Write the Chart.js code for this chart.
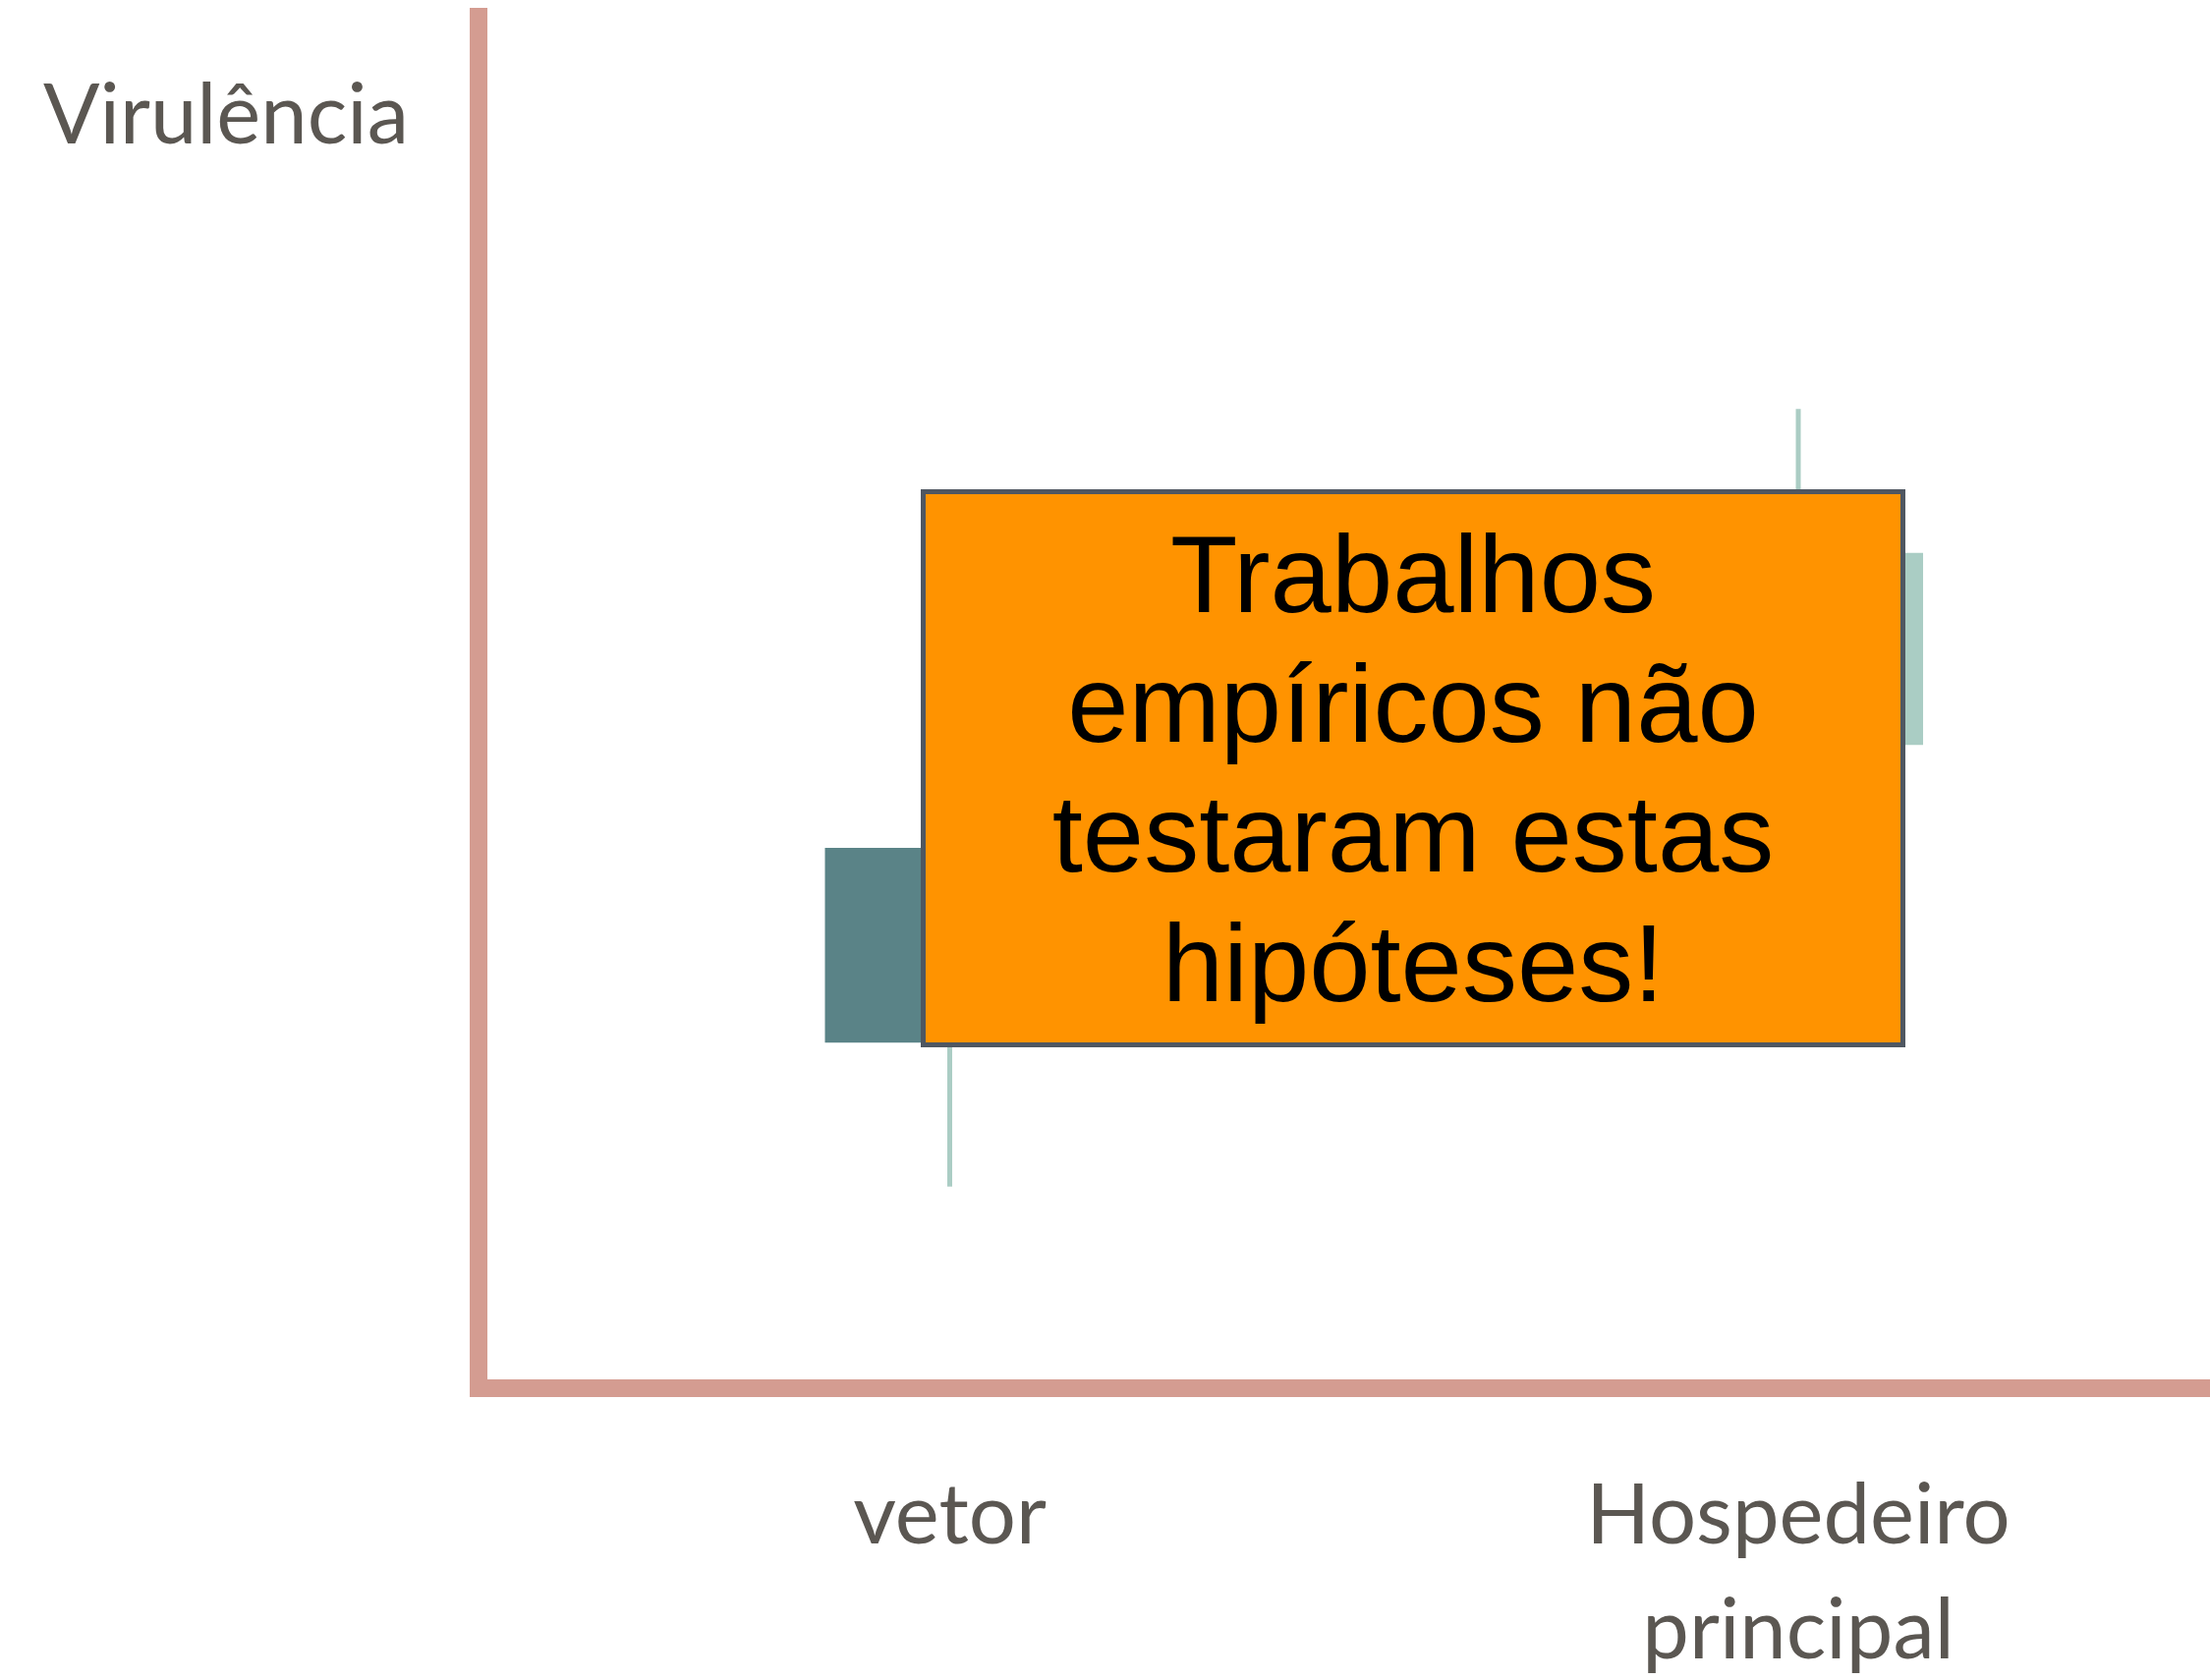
<!DOCTYPE html>
<html lang="pt">
<head>
<meta charset="utf-8">
<title>Virulência</title>
<script src="https://cdn.jsdelivr.net/npm/chart.js@4.4.1/dist/chart.umd.min.js"></script>
<style>
  html, body { margin: 0; padding: 0; background: #fff; overflow: hidden; }
  #wrap { position: relative; width: 2249px; height: 1710px; }
  #grafico { position: absolute; left: 0; top: 0; }
  #eixoY {
    position: absolute; left: 44px; top: 71px;
    font: 85px Lato, sans-serif; line-height: 85px; color: #5b5752;
    white-space: nowrap;
  }
  #nota {
    position: absolute; left: 937px; top: 498px; width: 1002px; height: 568px;
    box-sizing: border-box; border: 5px solid #4f5761; background: #ff9300;
    padding-top: 16px; text-align: center;
    font: 112px "Liberation Sans", Arial, sans-serif; line-height: 132px; color: #000;
  }
</style>
</head>
<body>
<div id="wrap">
  <canvas id="grafico" width="2249" height="1710"></canvas>
  <div id="eixoY">Virulência</div>
  <div id="nota">Trabalhos<br>empíricos não<br>testaram estas<br>hipóteses!</div>
</div>
<script>
  // categorias e valores (escala de virulência 0-10)
  const categorias  = [['vetor'], ['Hospedeiro', 'principal']];
  const posicoes    = [1, 2];
  const caixaBaixo  = [2.52, 4.69];
  const caixaAlto   = [3.94, 6.09];
  const bigodeBaixo = [1.47, 3.60];
  const bigodeAlto  = [5.00, 7.14];

  const corEixo   = '#d49c91';
  const corTexto  = '#5b5752';
  const corBigode = '#abcdc4';
  const coresCaixa = ['#5a8387', '#aacdc4'];
  const desvioRotulo = [0, 37]; // o rotulo da 2a categoria fica um pouco a direita

  // cada caixa e cada bigode e um segmento vertical grosso
  const caixas = posicoes.map((x, i) => ({
    label: 'caixa ' + i,
    data: [{ x: x, y: caixaBaixo[i] }, { x: x, y: caixaAlto[i] }],
    borderColor: coresCaixa[i],
    borderWidth: 254,
    order: 0
  }));
  const bigodes = posicoes.map((x, i) => ({
    label: 'bigode ' + i,
    data: [{ x: x, y: bigodeBaixo[i] }, { x: x, y: bigodeAlto[i] }],
    borderColor: corBigode,
    borderWidth: 5,
    order: 1
  }));

  const ctx = document.getElementById('grafico').getContext('2d');

  new Chart(ctx, {
    type: 'scatter',
    data: { datasets: bigodes.concat(caixas) },
    options: {
      responsive: false,
      animation: false,
      events: [],
      layout: { padding: { left: 487, top: 17, right: 0, bottom: 0 } },
      elements: {
        line: { borderCapStyle: 'butt', tension: 0 },
        point: { radius: 0 }
      },
      datasets: { scatter: { showLine: true, clip: false } },
      plugins: {
        legend: { display: false },
        tooltip: { enabled: false }
      },
      scales: {
        x: {
          type: 'linear',
          offset: false,
          bounds: 'data',
          min: 0.4447,
          max: 2.4852,
          afterBuildTicks: (scale) => { scale.ticks = posicoes.map(v => ({ value: v })); },
          afterFit: (scale) => { scale.height = 297; },
          grid: { display: false, drawTicks: false },
          border: { color: corEixo, width: 18 },
          ticks: {
            autoSkip: false,
            maxRotation: 0,
            padding: 72,
            color: corTexto,
            font: { family: 'Lato', size: 85, lineHeight: 1.376 },
            labelOffset: (c) => desvioRotulo[c.index] || 0,
            callback: (value) => categorias[posicoes.indexOf(value)]
          }
        },
        y: {
          type: 'linear',
          min: 0,
          max: 10,
          afterFit: (scale) => { scale.width = 0; },
          grid: { display: false, drawTicks: false },
          border: { color: corEixo, width: 18 },
          ticks: { display: false }
        }
      }
    }
  });
</script>
</body>
</html>
